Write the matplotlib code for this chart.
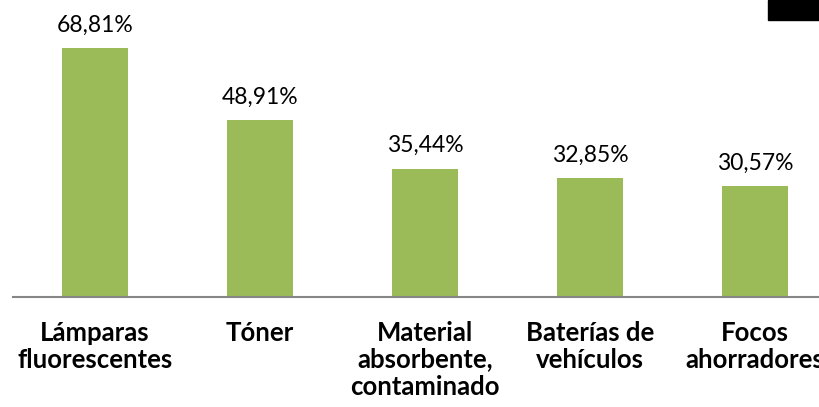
import matplotlib
matplotlib.use("Agg")
import matplotlib.pyplot as plt
from matplotlib.patches import Rectangle

categories = ["Lámparas\nfluorescentes", "Tóner", "Material\nabsorbente,\ncontaminado",
              "Baterías de\nvehículos", "Focos\nahorradores"]
values = [68.81, 48.91, 35.44, 32.85, 30.57]
value_labels = ["68,81%", "48,91%", "35,44%", "32,85%", "30,57%"]

W, H = 819, 407
fig = plt.figure(figsize=(W / 100, H / 100), dpi=100)
ax = fig.add_axes([12.5 / W, 110 / H, 825 / W, 289.5 / H])

x = range(len(values))
bars = ax.bar(x, values, width=0.4, color="#9BBB59", zorder=2)
ax.set_xlim(-0.5, 4.5)
ax.set_ylim(0, 80)

for b, lab in zip(bars, value_labels):
    ax.annotate(lab, (b.get_x() + b.get_width() / 2, b.get_height()),
                xytext=(0, 9), textcoords="offset points", ha="center", va="bottom",
                fontsize=16.5, family="Lato", color="black")

ax.set_xticks(list(x))
ax.set_xticklabels(categories, fontsize=18.5, fontweight="bold", family="Lato",
                   linespacing=1.15, va="top")
ax.tick_params(axis="x", length=0, pad=17)
ax.set_yticks([])
for s in ["top", "right", "left"]:
    ax.spines[s].set_visible(False)
ax.spines["bottom"].set_color("#868686")
ax.spines["bottom"].set_linewidth(1.5)

fig.patches.append(Rectangle((768 / W, 1 - 20 / H), 51 / W, 20 / H,
                             transform=fig.transFigure, color="black"))

fig.savefig("out.png", dpi=100)
